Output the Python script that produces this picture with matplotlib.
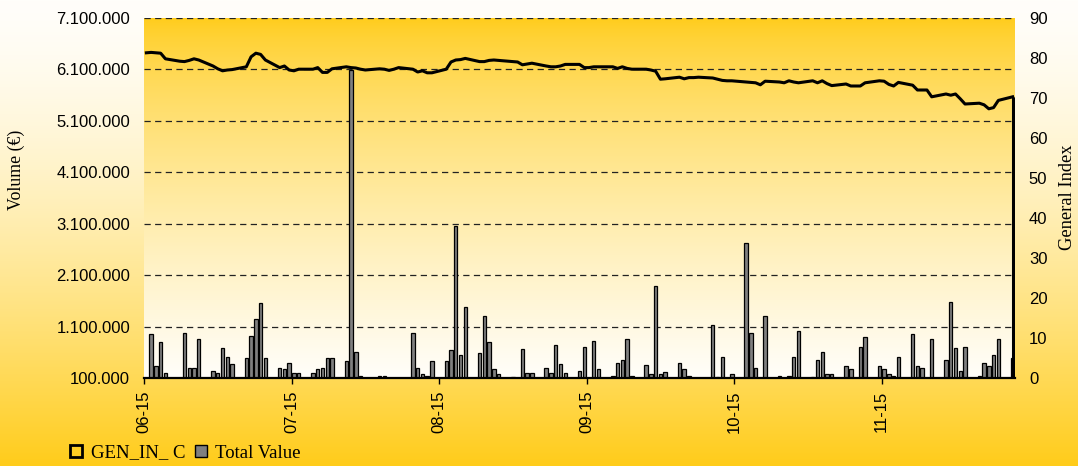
import numpy as np
import pandas as pd
import matplotlib
matplotlib.use("Agg")
import matplotlib.pyplot as plt
from matplotlib.colors import to_rgb
from matplotlib.patches import Patch

# Trading sessions (Mon-Fri) covered by the chart
trading_days = pd.bdate_range("2015-06-15", "2015-12-14")

# General index close per session
general_index = [
    81.3, 81.4, 81.3, 81.2, 79.8,
    79.2, 79.1, 79.4, 79.8, 79.5,
    78.0, 77.3, 76.8, 77.0, 77.1,
    77.8, 80.3, 81.2, 80.9, 79.5,
    77.6, 78.0, 77.0, 76.8, 77.2,
    77.2, 77.6, 76.4, 76.4, 77.3,
    77.8, 77.6, 77.5, 77.2, 77.0,
    77.3, 77.2, 76.9, 77.2, 77.6,
    77.2, 76.5, 76.8, 76.3, 76.3,
    77.2, 79.0, 79.5, 79.6, 79.9,
    79.1, 79.1, 79.4, 79.5, 79.4,
    79.1, 79.0, 78.3, 78.5, 78.7,
    78.0, 77.8, 77.8, 78.0, 78.4,
    78.4, 77.6, 77.6, 77.8, 77.8,
    77.8, 77.4, 77.8, 77.4, 77.2,
    77.2, 77.0, 76.7, 74.7, 74.8,
    75.2, 74.8, 75.1, 75.1, 75.2,
    75.0, 74.7, 74.4, 74.3, 74.3,
    74.0, 73.9, 73.8, 73.3, 74.2,
    74.0, 73.8, 74.3, 74.0, 73.8,
    74.3, 73.8, 74.3, 73.6, 73.1,
    73.5, 73.0, 73.0, 73.0, 73.8,
    74.3, 74.2, 73.4, 73.0, 73.9,
    73.2, 72.0, 72.0, 72.0, 70.3,
    71.0, 70.7, 71.0, 69.8, 68.5,
    68.7, 68.3, 67.3, 67.6, 69.4,
    70.3,
]

# Total traded value per session (EUR)
total_value = [
    0, 952000, 334000, 796000, 204000,
    0, 984000, 301000, 301000, 867000,
    236000, 204000, 679000, 515000, 366000,
    490000, 925000, 1244000, 1549000, 490000,
    301000, 270000, 392000, 204000, 204000,
    204000, 270000, 301000, 490000, 490000,
    425000, 6080000, 613000, 145000, 0,
    145000, 145000, 0, 0, 0,
    984000, 301000, 175000, 145000, 425000,
    425000, 646000, 3050000, 549000, 1490000,
    581000, 1300000, 796000, 270000, 175000,
    113000, 0, 672000, 204000, 204000,
    301000, 204000, 737000, 366000, 204000,
    236000, 705000, 0, 828000, 270000,
    145000, 392000, 451000, 860000, 145000,
    360000, 175000, 1890000, 175000, 210000,
    395000, 270000, 145000, 0, 0,
    1140000, 113000, 515000, 0, 175000,
    2730000, 984000, 301000, 0, 1300000,
    145000, 0, 145000, 515000, 1017000,
    113000, 451000, 613000, 175000, 175000,
    330000, 270000, 0, 705000, 893000,
    330000, 270000, 175000, 142000, 515000,
    958000, 330000, 298000, 0, 860000,
    455000, 1580000, 675000, 236000, 708000,
    142000, 392000, 330000, 549000, 862000,
    487000,
]

month_labels = ["06-15", "07-15", "08-15", "09-15", "10-15", "11-15"]
volume_ticks = np.arange(100000, 7100001, 1000000)
index_ticks = np.arange(0, 91, 10)

SANS = "Liberation Sans"
SERIF = "Liberation Serif"
YELLOW = to_rgb("#FFCC1A")
WHITE = to_rgb("#FFFEFA")


def gradient(top, bottom, gamma, n=400):
    t = np.linspace(0, 1, n)[:, None]
    w = t ** gamma
    top = np.array(top)[None, :]
    bottom = np.array(bottom)[None, :]
    rgb = top * (1 - w) + bottom * w
    return rgb[:, None, :]


fig = plt.figure(figsize=(10.78, 4.66), dpi=100)

# Figure backdrop: pale at the top, golden at the bottom
bg = fig.add_axes([0, 0, 1, 1], zorder=-10)
bg.imshow(gradient(WHITE, YELLOW, 1.5), aspect="auto", extent=[0, 1, 0, 1])
bg.set_axis_off()

ax = fig.add_axes([144 / 1078, 88 / 466, 871 / 1078, 360 / 466])
ax.patch.set_visible(False)
# Plot area: golden at the top fading to white at the bottom
ax.imshow(gradient(YELLOW, WHITE, 0.72), aspect="auto", extent=[0, 1, 0, 1],
          transform=ax.transAxes, zorder=0)

x = np.asarray((trading_days - trading_days[0]).days)

ax.bar(x, total_value, width=0.72, color="#808080", edgecolor="black",
       linewidth=0.9, zorder=3)

ax.set_xlim(-0.5, 182.5)
ax.set_ylim(volume_ticks[0], volume_ticks[-1])
ax.set_yticks(volume_ticks)
ax.set_yticklabels([f"{v:,.0f}".replace(",", ".") for v in volume_ticks],
                   fontfamily=SANS, fontsize=12)
ax.yaxis.grid(True, color="#222222", linestyle=(0, (5, 3.5)), linewidth=0.9, zorder=1)
ax.tick_params(axis="y", length=0, pad=10)

ax.set_xticks(np.arange(len(month_labels)) * 31 - 0.5)
ax.set_xticklabels(month_labels, rotation=90, fontfamily=SANS, fontsize=12)
ax.tick_params(axis="x", length=4, width=1, pad=5, direction="out")

for side in ("top", "left", "right"):
    ax.spines[side].set_visible(False)
ax.spines["bottom"].set_linewidth(1.6)
ax.spines["bottom"].set_zorder(5)

ax2 = ax.twinx()
ax2.plot(x, general_index, color="black", linewidth=2.2, zorder=4,
         solid_joinstyle="round")
ax2.vlines(x[-1], 0, general_index[-1], color="black", linewidth=2.2)
ax2.set_ylim(0, 90)
ax2.set_yticks(index_ticks)
ax2.set_yticklabels([str(v) for v in index_ticks], fontfamily=SANS, fontsize=12)
ax2.tick_params(axis="y", length=0, pad=10)
for side in ("top", "left", "right", "bottom"):
    ax2.spines[side].set_visible(False)

fig.text(16 / 1078, 1 - 170 / 466, "Volume (€)", rotation=90, ha="center",
         va="center", fontfamily=SERIF, fontsize=12.8)
fig.text(1067 / 1078, 1 - 197 / 466, "General Index", rotation=90, ha="center",
         va="center", fontfamily=SERIF, fontsize=13.3)

handles = [
    Patch(facecolor="none", edgecolor="black", linewidth=2.0),
    Patch(facecolor="#808080", edgecolor="black", linewidth=1.0),
]
fig.legend(handles, ["GEN_IN_ C", "Total Value"], loc="center left",
           bbox_to_anchor=(70 / 1078, 1 - 453 / 466), ncol=2, frameon=False,
           prop={"family": SERIF, "size": 13.5}, handlelength=0.65,
           handleheight=0.65, handletextpad=0.45, columnspacing=0.5,
           borderpad=0, borderaxespad=0)

fig.savefig("out.png", dpi=100)
